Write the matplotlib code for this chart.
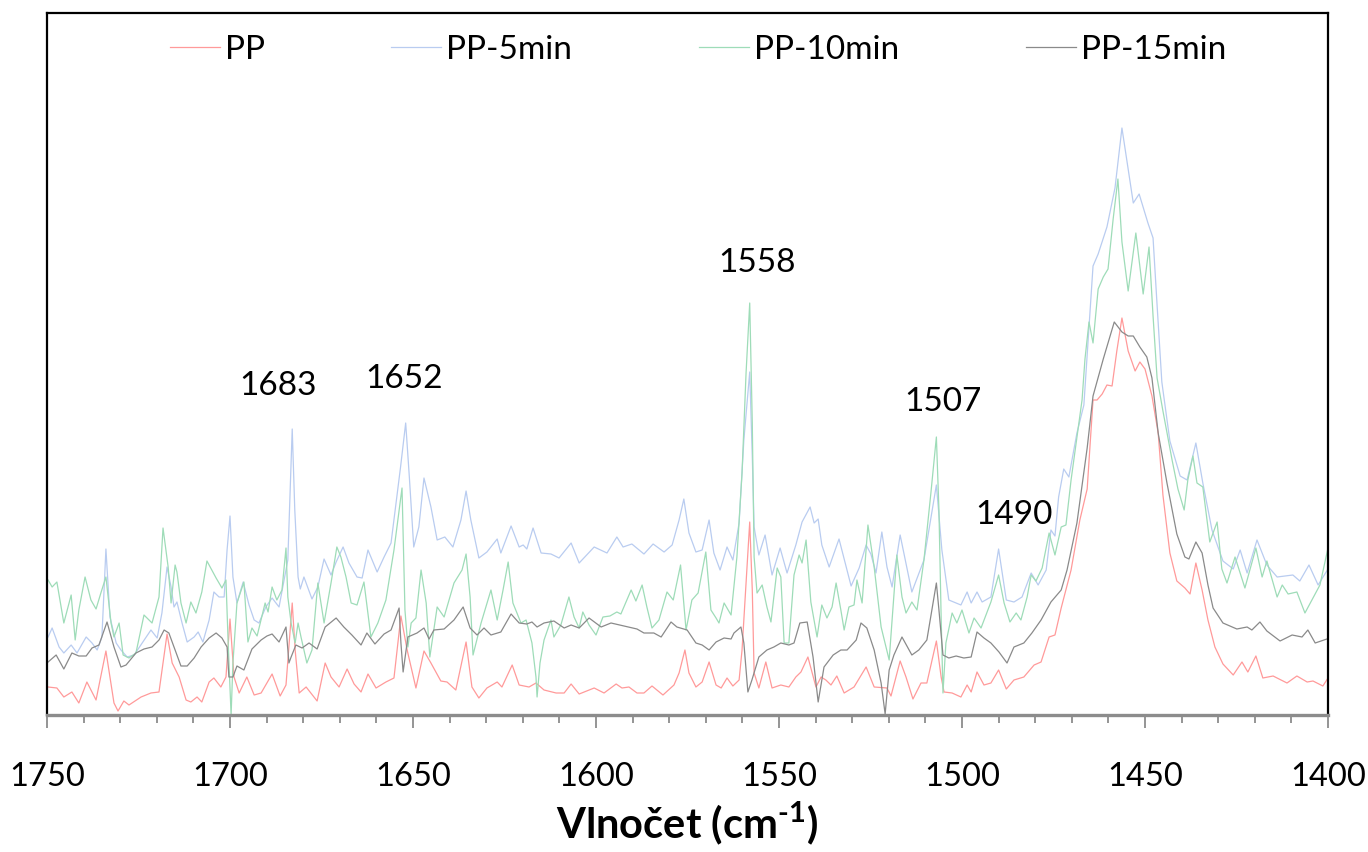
import matplotlib
matplotlib.use("Agg")
import matplotlib.pyplot as plt
from matplotlib.ticker import MultipleLocator

plt.rcParams['font.family'] = ['Lato', 'DejaVu Sans']
plt.rcParams['mathtext.fontset'] = 'custom'
plt.rcParams['mathtext.rm'] = 'Lato:bold'
plt.rcParams['mathtext.bf'] = 'Lato:bold'
plt.rcParams['mathtext.it'] = 'Lato:bold'

# ---- spectra: wavenumber (cm-1) and absorbance ----
wn_pp = [1749.7, 1747.3, 1745.4, 1743.2, 1741.3, 1739.1, 1736.6, 1733.9, 1731.7, 1730.6,
         1729.0, 1727.6, 1724.3, 1721.6, 1719.4, 1717.2, 1715.8, 1713.9, 1712.0, 1710.7,
         1709.0, 1707.7, 1705.7, 1704.4, 1702.5, 1701.1, 1700.0, 1698.9, 1697.5, 1695.4,
         1693.4, 1691.5, 1688.5, 1686.3, 1684.7, 1683.0, 1682.2, 1681.1, 1679.2, 1676.2,
         1674.0, 1672.4, 1670.2, 1668.0, 1666.1, 1664.2, 1662.3, 1660.1, 1657.4, 1655.2,
         1653.3, 1651.6, 1649.2, 1647.0, 1645.1, 1642.4, 1640.7, 1638.3, 1635.5, 1633.9,
         1632.0, 1629.8, 1627.0, 1625.7, 1622.9, 1621.0, 1618.3, 1616.4, 1614.2, 1610.9,
         1608.7, 1606.8, 1604.6, 1600.5, 1597.8, 1594.5, 1592.9, 1591.0, 1588.8, 1586.9,
         1584.7, 1581.7, 1578.7, 1577.3, 1575.7, 1574.6, 1572.7, 1571.0, 1569.1, 1567.2,
         1565.8, 1564.2, 1562.6, 1560.9, 1560.1, 1558.0, 1557.3, 1556.8, 1555.5, 1553.6,
         1551.9, 1549.5, 1547.3, 1545.4, 1544.0, 1542.1, 1539.9, 1538.5, 1537.2, 1535.8,
         1534.2, 1532.2, 1529.5, 1526.2, 1524.0, 1520.5, 1519.4, 1516.9, 1515.3, 1513.4,
         1511.2, 1509.6, 1507.0, 1505.7, 1504.9, 1502.7, 1500.3, 1498.6, 1497.5, 1495.9,
         1494.0, 1492.1, 1490.0, 1487.9, 1485.8, 1483.1, 1480.3, 1478.4, 1476.2, 1474.6,
         1472.9, 1470.2, 1467.8, 1465.8, 1464.2, 1463.1, 1461.7, 1460.4, 1459.0, 1457.7,
         1456.3, 1454.6, 1452.7, 1451.4, 1450.0, 1448.1, 1446.4, 1445.1, 1443.2, 1441.3,
         1439.1, 1437.7, 1436.1, 1434.4, 1432.8, 1430.9, 1428.7, 1425.9, 1423.5, 1421.9,
         1419.7, 1417.8, 1415.0, 1411.2, 1408.5, 1405.7, 1404.1, 1401.4, 1400.0]
abs_pp = [0.028, 0.027, 0.018, 0.023, 0.012, 0.033, 0.015, 0.064, 0.012, 0.004,
          0.014, 0.010, 0.018, 0.022, 0.023, 0.081, 0.052, 0.038, 0.015, 0.013,
          0.018, 0.013, 0.033, 0.037, 0.028, 0.038, 0.096, 0.038, 0.022, 0.038,
          0.020, 0.022, 0.041, 0.019, 0.030, 0.112, 0.065, 0.022, 0.028, 0.014,
          0.052, 0.038, 0.028, 0.046, 0.031, 0.023, 0.041, 0.027, 0.033, 0.037,
          0.099, 0.065, 0.027, 0.064, 0.052, 0.034, 0.033, 0.025, 0.073, 0.028,
          0.017, 0.027, 0.033, 0.028, 0.050, 0.030, 0.028, 0.032, 0.025, 0.022,
          0.022, 0.031, 0.021, 0.027, 0.022, 0.031, 0.027, 0.028, 0.022, 0.022,
          0.029, 0.020, 0.030, 0.042, 0.065, 0.042, 0.028, 0.033, 0.053, 0.030,
          0.027, 0.037, 0.029, 0.035, 0.065, 0.193, 0.125, 0.042, 0.027, 0.053,
          0.027, 0.030, 0.028, 0.038, 0.043, 0.058, 0.028, 0.038, 0.035, 0.030,
          0.039, 0.022, 0.028, 0.048, 0.028, 0.027, 0.019, 0.054, 0.038, 0.016,
          0.032, 0.032, 0.074, 0.038, 0.023, 0.022, 0.018, 0.030, 0.023, 0.043,
          0.030, 0.032, 0.045, 0.026, 0.035, 0.038, 0.050, 0.053, 0.078, 0.080,
          0.107, 0.145, 0.195, 0.226, 0.315, 0.315, 0.321, 0.330, 0.329, 0.364,
          0.397, 0.364, 0.344, 0.353, 0.346, 0.319, 0.282, 0.220, 0.162, 0.134,
          0.127, 0.121, 0.152, 0.125, 0.095, 0.068, 0.051, 0.040, 0.053, 0.043,
          0.059, 0.037, 0.039, 0.032, 0.039, 0.033, 0.034, 0.029, 0.037]

wn_5 = [1749.7, 1748.6, 1746.7, 1745.4, 1743.4, 1741.8, 1739.3, 1737.7, 1736.3, 1735.0,
        1733.9, 1732.8, 1731.1, 1729.8, 1728.1, 1726.2, 1724.0, 1721.6, 1719.9, 1718.6,
        1717.2, 1716.1, 1715.3, 1714.5, 1713.1, 1711.7, 1709.8, 1708.7, 1707.4, 1705.7,
        1704.4, 1703.0, 1701.6, 1700.8, 1700.0, 1699.2, 1698.1, 1696.4, 1694.8, 1693.4,
        1692.1, 1690.2, 1688.5, 1686.6, 1684.2, 1683.0, 1682.3, 1681.4, 1680.8, 1679.8,
        1677.6, 1676.0, 1674.3, 1672.4, 1671.0, 1669.1, 1667.5, 1665.3, 1663.9, 1662.3,
        1659.8, 1657.9, 1656.0, 1653.4, 1652.0, 1651.0, 1649.8, 1648.4, 1647.0, 1645.1,
        1643.4, 1641.3, 1639.1, 1636.9, 1635.5, 1634.2, 1632.0, 1629.8, 1627.0, 1626.0,
        1623.2, 1621.0, 1619.9, 1618.9, 1617.2, 1615.0, 1612.3, 1610.1, 1606.8, 1604.6,
        1600.5, 1597.0, 1594.3, 1592.6, 1590.2, 1586.9, 1584.4, 1581.4, 1579.2, 1577.3,
        1576.0, 1574.6, 1572.7, 1571.0, 1569.1, 1567.8, 1566.1, 1564.2, 1562.6, 1560.9,
        1559.6, 1558.0, 1557.3, 1556.8, 1555.5, 1553.8, 1551.9, 1549.7, 1547.8, 1545.4,
        1543.7, 1541.5, 1540.4, 1539.3, 1538.3, 1536.3, 1533.6, 1530.3, 1528.1, 1526.2,
        1524.9, 1523.5, 1521.9, 1520.5, 1519.1, 1516.9, 1513.7, 1510.4, 1507.0, 1505.5,
        1503.6, 1500.3, 1498.6, 1497.5, 1495.9, 1494.5, 1492.1, 1490.0, 1487.9, 1485.8,
        1483.6, 1481.1, 1479.2, 1477.0, 1475.7, 1474.6, 1473.6, 1472.2, 1470.8, 1468.6,
        1466.7, 1464.2, 1462.8, 1460.4, 1458.2, 1456.3, 1453.2, 1451.6, 1449.2, 1447.8,
        1446.7, 1445.4, 1443.2, 1440.4, 1438.5, 1436.1, 1434.2, 1431.7, 1428.7, 1425.9,
        1424.0, 1422.1, 1419.4, 1416.7, 1413.9, 1409.6, 1407.7, 1405.2, 1402.7, 1400.0]
abs_5 = [0.078, 0.087, 0.068, 0.062, 0.070, 0.062, 0.078, 0.072, 0.065, 0.078,
         0.166, 0.098, 0.072, 0.065, 0.058, 0.060, 0.072, 0.085, 0.077, 0.102,
         0.148, 0.128, 0.108, 0.113, 0.092, 0.073, 0.078, 0.083, 0.073, 0.095,
         0.123, 0.118, 0.118, 0.165, 0.199, 0.138, 0.112, 0.133, 0.110, 0.095,
         0.092, 0.108, 0.117, 0.108, 0.155, 0.286, 0.205, 0.138, 0.126, 0.138,
         0.116, 0.128, 0.156, 0.140, 0.153, 0.168, 0.152, 0.138, 0.137, 0.165,
         0.143, 0.158, 0.172, 0.248, 0.292, 0.238, 0.168, 0.188, 0.237, 0.208,
         0.175, 0.178, 0.168, 0.195, 0.224, 0.195, 0.157, 0.163, 0.176, 0.162,
         0.189, 0.168, 0.170, 0.166, 0.187, 0.162, 0.161, 0.157, 0.172, 0.152,
         0.168, 0.162, 0.178, 0.168, 0.171, 0.161, 0.171, 0.163, 0.170, 0.195,
         0.216, 0.182, 0.163, 0.165, 0.195, 0.162, 0.145, 0.168, 0.155, 0.192,
         0.275, 0.343, 0.258, 0.188, 0.160, 0.180, 0.140, 0.167, 0.142, 0.170,
         0.193, 0.208, 0.192, 0.196, 0.170, 0.148, 0.176, 0.129, 0.147, 0.170,
         0.161, 0.142, 0.183, 0.148, 0.128, 0.180, 0.123, 0.155, 0.230, 0.165,
         0.115, 0.110, 0.123, 0.112, 0.123, 0.113, 0.118, 0.166, 0.115, 0.113,
         0.118, 0.142, 0.130, 0.145, 0.185, 0.179, 0.218, 0.246, 0.238, 0.282,
         0.310, 0.449, 0.461, 0.488, 0.527, 0.587, 0.512, 0.521, 0.492, 0.477,
         0.410, 0.333, 0.274, 0.239, 0.235, 0.272, 0.232, 0.185, 0.154, 0.146,
         0.165, 0.142, 0.175, 0.150, 0.138, 0.140, 0.134, 0.150, 0.130, 0.146]

wn_10 = [1749.7, 1748.6, 1747.3, 1745.4, 1743.4, 1742.3, 1741.3, 1739.6, 1738.0, 1736.6,
         1735.2, 1733.9, 1732.5, 1731.7, 1730.3, 1729.2, 1727.6, 1725.7, 1723.5, 1721.3,
         1719.4, 1718.3, 1716.9, 1716.1, 1715.0, 1714.5, 1713.4, 1712.0, 1710.7, 1709.3,
         1707.7, 1706.3, 1703.8, 1702.2, 1701.1, 1700.5, 1699.7, 1699.2, 1698.1, 1696.2,
         1695.1, 1694.0, 1692.6, 1690.4, 1689.6, 1688.5, 1687.2, 1685.8, 1684.7, 1684.2,
         1683.3, 1682.2, 1681.4, 1680.6, 1679.0, 1677.6, 1676.0, 1674.3, 1672.4, 1670.8,
         1669.7, 1668.3, 1666.9, 1665.3, 1663.4, 1661.5, 1659.6, 1657.4, 1655.2, 1653.0,
         1652.2, 1651.4, 1650.5, 1649.2, 1647.8, 1646.4, 1645.4, 1643.4, 1641.5, 1638.8,
         1636.6, 1635.5, 1634.4, 1633.6, 1631.4, 1628.7, 1627.0, 1625.4, 1624.0, 1622.7,
         1620.5, 1619.1, 1617.5, 1616.4, 1616.1, 1615.3, 1614.2, 1612.3, 1611.5, 1609.6,
         1607.4, 1606.0, 1604.6, 1603.6, 1601.9, 1600.0, 1598.1, 1596.2, 1594.3, 1593.2,
         1590.4, 1589.1, 1587.4, 1586.1, 1584.7, 1582.8, 1580.6, 1578.9, 1576.9, 1575.4,
         1573.8, 1572.1, 1570.0, 1568.6, 1567.2, 1566.4, 1565.0, 1563.1, 1561.5, 1560.1,
         1559.0, 1558.0, 1557.3, 1556.8, 1556.0, 1554.6, 1553.3, 1552.2, 1550.5, 1549.5,
         1548.6, 1547.3, 1545.9, 1544.5, 1543.7, 1542.6, 1541.3, 1539.6, 1538.3, 1536.9,
         1535.5, 1534.4, 1533.1, 1532.2, 1530.9, 1529.5, 1528.7, 1527.3, 1525.7, 1524.0,
         1522.1, 1519.9, 1517.8, 1516.4, 1515.3, 1513.7, 1512.3, 1510.4, 1508.5, 1507.0,
         1506.3, 1505.7, 1505.2, 1504.4, 1502.7, 1501.4, 1500.0, 1498.1, 1496.7, 1494.8,
         1492.1, 1490.0, 1488.5, 1486.9, 1485.2, 1483.9, 1482.2, 1481.1, 1479.8, 1478.1,
         1476.2, 1474.6, 1472.9, 1471.6, 1470.2, 1468.6, 1467.2, 1466.4, 1465.3, 1464.2,
         1462.8, 1461.4, 1460.1, 1458.7, 1457.4, 1456.3, 1454.6, 1452.5, 1450.5, 1448.9,
         1447.8, 1446.7, 1445.1, 1442.6, 1441.0, 1439.3, 1438.3, 1436.9, 1435.8, 1434.2,
         1432.3, 1430.3, 1429.0, 1427.6, 1425.4, 1422.7, 1419.7, 1418.0, 1416.7, 1413.9,
         1412.5, 1410.9, 1408.5, 1406.3, 1404.1, 1402.2, 1400.0]
abs_10 = [0.135, 0.128, 0.133, 0.092, 0.120, 0.075, 0.105, 0.138, 0.115, 0.106,
          0.123, 0.138, 0.092, 0.078, 0.092, 0.060, 0.057, 0.062, 0.100, 0.092,
          0.118, 0.187, 0.148, 0.112, 0.150, 0.143, 0.112, 0.092, 0.113, 0.102,
          0.123, 0.154, 0.137, 0.127, 0.135, 0.072, 0.000, 0.052, 0.112, 0.133,
          0.073, 0.087, 0.079, 0.112, 0.103, 0.128, 0.115, 0.125, 0.167, 0.118,
          0.092, 0.072, 0.092, 0.078, 0.052, 0.065, 0.132, 0.092, 0.132, 0.168,
          0.158, 0.138, 0.112, 0.110, 0.133, 0.078, 0.092, 0.115, 0.165, 0.227,
          0.105, 0.068, 0.092, 0.097, 0.145, 0.112, 0.058, 0.108, 0.098, 0.132,
          0.145, 0.161, 0.118, 0.060, 0.092, 0.125, 0.095, 0.125, 0.153, 0.112,
          0.092, 0.095, 0.072, 0.038, 0.018, 0.052, 0.075, 0.095, 0.078, 0.090,
          0.118, 0.098, 0.087, 0.103, 0.090, 0.080, 0.098, 0.099, 0.103, 0.101,
          0.125, 0.114, 0.130, 0.108, 0.087, 0.095, 0.123, 0.115, 0.150, 0.085,
          0.115, 0.122, 0.163, 0.105, 0.097, 0.092, 0.112, 0.100, 0.158, 0.242,
          0.342, 0.412, 0.292, 0.158, 0.122, 0.130, 0.108, 0.093, 0.147, 0.138,
          0.072, 0.072, 0.140, 0.160, 0.152, 0.175, 0.113, 0.078, 0.110, 0.097,
          0.108, 0.132, 0.105, 0.085, 0.108, 0.110, 0.135, 0.112, 0.190, 0.148,
          0.088, 0.055, 0.160, 0.118, 0.102, 0.113, 0.105, 0.155, 0.222, 0.278,
          0.205, 0.098, 0.022, 0.072, 0.102, 0.092, 0.105, 0.082, 0.097, 0.087,
          0.113, 0.140, 0.112, 0.093, 0.102, 0.095, 0.118, 0.140, 0.134, 0.147,
          0.182, 0.160, 0.188, 0.190, 0.235, 0.278, 0.315, 0.356, 0.393, 0.372,
          0.426, 0.438, 0.446, 0.496, 0.536, 0.473, 0.424, 0.482, 0.421, 0.468,
          0.399, 0.337, 0.304, 0.255, 0.226, 0.205, 0.235, 0.259, 0.232, 0.228,
          0.173, 0.193, 0.146, 0.132, 0.158, 0.127, 0.167, 0.138, 0.154, 0.118,
          0.130, 0.121, 0.123, 0.102, 0.117, 0.130, 0.167]

wn_15 = [1749.7, 1747.5, 1745.4, 1743.2, 1741.3, 1739.3, 1737.7, 1735.8, 1733.6, 1731.7,
         1729.8, 1728.4, 1725.7, 1723.5, 1721.3, 1719.4, 1718.0, 1716.7, 1714.8, 1713.4,
         1711.7, 1709.8, 1707.9, 1705.7, 1703.8, 1702.2, 1700.8, 1700.3, 1699.2, 1698.1,
         1696.2, 1694.0, 1691.5, 1689.9, 1688.5, 1686.6, 1684.7, 1683.9, 1683.3, 1682.0,
         1680.3, 1678.4, 1676.2, 1674.0, 1671.0, 1668.9, 1666.7, 1664.2, 1662.6, 1660.4,
         1657.9, 1656.0, 1653.8, 1653.3, 1652.7, 1651.4, 1648.9, 1647.0, 1645.6, 1644.3,
         1641.5, 1638.8, 1636.3, 1634.4, 1632.5, 1630.6, 1628.7, 1626.0, 1623.2, 1621.0,
         1618.9, 1617.5, 1616.1, 1614.2, 1611.5, 1608.7, 1606.8, 1604.6, 1601.9, 1598.6,
         1595.9, 1592.4, 1588.8, 1586.9, 1584.2, 1582.2, 1579.5, 1577.9, 1575.1, 1572.7,
         1571.0, 1569.1, 1567.2, 1565.0, 1563.1, 1562.3, 1560.4, 1559.6, 1558.5, 1557.4,
         1555.5, 1553.3, 1551.4, 1549.5, 1547.3, 1545.9, 1544.3, 1542.3, 1540.7, 1539.3,
         1537.7, 1535.2, 1533.1, 1531.4, 1528.9, 1527.6, 1526.0, 1524.0, 1522.1, 1521.0,
         1519.9, 1518.6, 1516.4, 1513.7, 1511.8, 1509.6, 1507.0, 1506.3, 1505.2, 1503.6,
         1501.6, 1499.5, 1497.5, 1495.9, 1494.0, 1492.1, 1489.9, 1487.7, 1485.8, 1483.1,
         1480.9, 1478.4, 1475.7, 1472.9, 1471.3, 1468.6, 1465.8, 1464.2, 1461.4, 1458.4,
         1456.3, 1454.6, 1453.2, 1451.4, 1449.5, 1448.1, 1446.4, 1444.0, 1441.3, 1439.1,
         1438.0, 1436.1, 1434.4, 1432.8, 1431.4, 1428.7, 1424.9, 1422.1, 1420.8, 1418.6,
         1416.7, 1413.1, 1409.8, 1407.1, 1405.5, 1403.5, 1400.3]
abs_15 = [0.053, 0.060, 0.046, 0.062, 0.059, 0.059, 0.067, 0.070, 0.093, 0.068,
          0.048, 0.050, 0.062, 0.066, 0.068, 0.075, 0.085, 0.082, 0.063, 0.049,
          0.049, 0.057, 0.068, 0.077, 0.082, 0.077, 0.068, 0.038, 0.038, 0.049,
          0.045, 0.066, 0.075, 0.079, 0.081, 0.073, 0.088, 0.052, 0.058, 0.070,
          0.067, 0.072, 0.066, 0.088, 0.097, 0.088, 0.080, 0.070, 0.082, 0.071,
          0.081, 0.085, 0.107, 0.072, 0.043, 0.078, 0.082, 0.087, 0.076, 0.085,
          0.086, 0.095, 0.108, 0.087, 0.080, 0.087, 0.080, 0.083, 0.101, 0.092,
          0.091, 0.093, 0.088, 0.092, 0.094, 0.087, 0.090, 0.087, 0.097, 0.088,
          0.092, 0.089, 0.086, 0.082, 0.082, 0.078, 0.093, 0.088, 0.085, 0.072,
          0.070, 0.065, 0.073, 0.077, 0.076, 0.082, 0.088, 0.072, 0.023, 0.035,
          0.058, 0.065, 0.068, 0.072, 0.070, 0.072, 0.092, 0.093, 0.058, 0.013,
          0.048, 0.060, 0.065, 0.065, 0.075, 0.092, 0.087, 0.065, 0.032, 0.001,
          0.045, 0.060, 0.078, 0.060, 0.065, 0.075, 0.132, 0.105, 0.060, 0.057,
          0.059, 0.057, 0.058, 0.083, 0.077, 0.072, 0.063, 0.052, 0.068, 0.072,
          0.082, 0.095, 0.113, 0.125, 0.145, 0.192, 0.267, 0.319, 0.356, 0.393,
          0.383, 0.379, 0.379, 0.368, 0.358, 0.337, 0.282, 0.232, 0.181, 0.158,
          0.156, 0.173, 0.162, 0.130, 0.107, 0.092, 0.086, 0.088, 0.085, 0.093,
          0.084, 0.074, 0.080, 0.078, 0.085, 0.072, 0.076]

series_names = ['PP', 'PP-5min', 'PP-10min', 'PP-15min']
series_colors = ['#ff9a9a', '#b9ccf0', '#9edcb8', '#8a8a8a']

# band positions marked on the plot
peak_labels = [1683, 1652, 1558, 1507, 1490]
label_dx = [3.9, 0.5, -2.0, -1.8, -4.2]
label_y = [0.329, 0.336, 0.452, 0.313, 0.200]

fig = plt.figure(figsize=(13.68, 8.52), dpi=100)
ax = fig.add_axes([47 / 1368, 1 - 715 / 852, 1281 / 1368, 702 / 852])

for wn, a, name, col in zip([wn_pp, wn_5, wn_10, wn_15],
                            [abs_pp, abs_5, abs_10, abs_15],
                            series_names, series_colors):
    ax.plot(wn, a, color=col, lw=0.9, label=name, solid_joinstyle='round')

ax.set_xlim(1750, 1400)
ax.set_ylim(0, 0.702)
ax.set_yticks([])
ax.xaxis.set_major_locator(MultipleLocator(50))
ax.xaxis.set_minor_locator(MultipleLocator(10))
ax.tick_params(axis='x', which='major', direction='out', length=9, width=1.3,
               color='#8c8c8c', labelsize=23.5, pad=25)
ax.tick_params(axis='x', which='minor', direction='out', length=6, width=1.3,
               color='#8c8c8c')

for side in ['left', 'top', 'right']:
    ax.spines[side].set_color('black')
    ax.spines[side].set_linewidth(1.6)
ax.spines['bottom'].set_color('#8c8c8c')
ax.spines['bottom'].set_linewidth(2.4)

for lab, dx, y in zip(peak_labels, label_dx, label_y):
    ax.text(lab + dx, y, str(lab), ha='center', va='center', fontsize=24)

ax.legend(loc='center', bbox_to_anchor=(0.508, 0.948), ncol=4, frameon=False,
          fontsize=24, handlelength=1.5, handletextpad=0.15, columnspacing=3.8)

ax.set_xlabel(r'Vlnočet (cm$^{\mathbf{\text{-}1}}$)', fontsize=30, fontweight='bold',
              labelpad=5)

fig.savefig('out.png', dpi=100)
